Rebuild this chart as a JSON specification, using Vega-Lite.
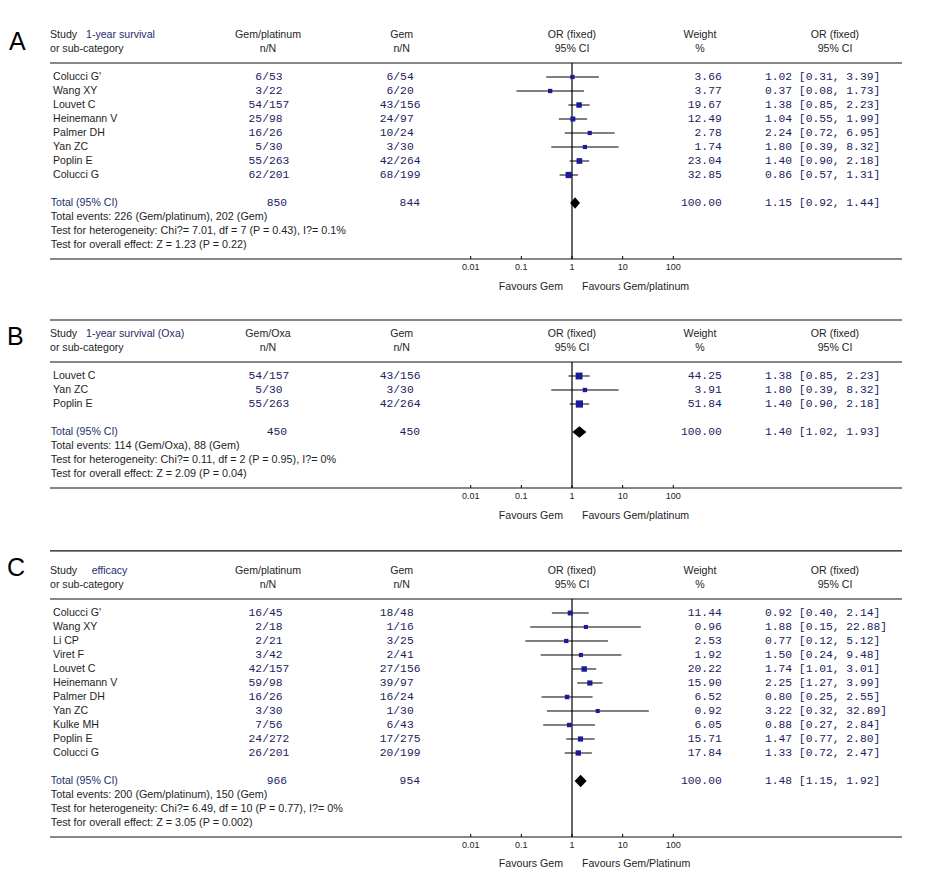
{
  "$schema": "https://vega.github.io/schema/vega-lite/v6.json",
  "padding": 0,
  "spacing": 0,
  "background": "white",
  "config": {"view": {"stroke": null}, "text": {"font": "Liberation Sans", "baseline": "middle"}},
  "datasets": {
    "ticks": [
      {"v": 0.01, "label": "0.01"},
      {"v": 0.1, "label": "0.1"},
      {"v": 1, "label": "1"},
      {"v": 10, "label": "10"},
      {"v": 100, "label": "100"}
    ],
    "panels": [
      {"panel": "A", "outcome": "1-year survival", "t1": 850, "t2": 844, "or": 1.15, "lo": 0.92, "hi": 1.44, "weight": 100, "ci": "1.15 [0.92, 1.44]", "events": "Total events: 226 (Gem/platinum), 202 (Gem)", "het": "Test for heterogeneity: Chi?= 7.01, df = 7 (P = 0.43), I?= 0.1%", "effect": "Test for overall effect: Z = 1.23 (P = 0.22)", "fav1": "Favours Gem", "fav2": "Favours Gem/platinum"},
      {"panel": "B", "outcome": "1-year survival (Oxa)", "t1": 450, "t2": 450, "or": 1.40, "lo": 1.02, "hi": 1.93, "weight": 100, "ci": "1.40 [1.02, 1.93]", "events": "Total events: 114 (Gem/Oxa), 88 (Gem)", "het": "Test for heterogeneity: Chi?= 0.11, df = 2 (P = 0.95), I?= 0%", "effect": "Test for overall effect: Z = 2.09 (P = 0.04)", "fav1": "Favours Gem", "fav2": "Favours Gem/platinum"},
      {"panel": "C", "outcome": "efficacy", "t1": 966, "t2": 954, "or": 1.48, "lo": 1.15, "hi": 1.92, "weight": 100, "ci": "1.48 [1.15, 1.92]", "events": "Total events: 200 (Gem/platinum), 150 (Gem)", "het": "Test for heterogeneity: Chi?= 6.49, df = 10 (P = 0.77), I?= 0%", "effect": "Test for overall effect: Z = 3.05 (P = 0.002)", "fav1": "Favours Gem", "fav2": "Favours Gem/Platinum"}
    ],
    "studies": [
      {"panel": "A", "k": 1, "study": "Colucci G'", "e1": 6, "n1": 53, "e2": 6, "n2": 54, "or": 1.02, "lo": 0.31, "hi": 3.39, "weight": 3.66, "ci": "1.02 [0.31, 3.39]"},
      {"panel": "A", "k": 2, "study": "Wang XY", "e1": 3, "n1": 22, "e2": 6, "n2": 20, "or": 0.37, "lo": 0.08, "hi": 1.73, "weight": 3.77, "ci": "0.37 [0.08, 1.73]"},
      {"panel": "A", "k": 3, "study": "Louvet C", "e1": 54, "n1": 157, "e2": 43, "n2": 156, "or": 1.38, "lo": 0.85, "hi": 2.23, "weight": 19.67, "ci": "1.38 [0.85, 2.23]"},
      {"panel": "A", "k": 4, "study": "Heinemann V", "e1": 25, "n1": 98, "e2": 24, "n2": 97, "or": 1.04, "lo": 0.55, "hi": 1.99, "weight": 12.49, "ci": "1.04 [0.55, 1.99]"},
      {"panel": "A", "k": 5, "study": "Palmer DH", "e1": 16, "n1": 26, "e2": 10, "n2": 24, "or": 2.24, "lo": 0.72, "hi": 6.95, "weight": 2.78, "ci": "2.24 [0.72, 6.95]"},
      {"panel": "A", "k": 6, "study": "Yan ZC", "e1": 5, "n1": 30, "e2": 3, "n2": 30, "or": 1.80, "lo": 0.39, "hi": 8.32, "weight": 1.74, "ci": "1.80 [0.39, 8.32]"},
      {"panel": "A", "k": 7, "study": "Poplin E", "e1": 55, "n1": 263, "e2": 42, "n2": 264, "or": 1.40, "lo": 0.90, "hi": 2.18, "weight": 23.04, "ci": "1.40 [0.90, 2.18]"},
      {"panel": "A", "k": 8, "study": "Colucci G", "e1": 62, "n1": 201, "e2": 68, "n2": 199, "or": 0.86, "lo": 0.57, "hi": 1.31, "weight": 32.85, "ci": "0.86 [0.57, 1.31]"},
      {"panel": "B", "k": 1, "study": "Louvet C", "e1": 54, "n1": 157, "e2": 43, "n2": 156, "or": 1.38, "lo": 0.85, "hi": 2.23, "weight": 44.25, "ci": "1.38 [0.85, 2.23]"},
      {"panel": "B", "k": 2, "study": "Yan ZC", "e1": 5, "n1": 30, "e2": 3, "n2": 30, "or": 1.80, "lo": 0.39, "hi": 8.32, "weight": 3.91, "ci": "1.80 [0.39, 8.32]"},
      {"panel": "B", "k": 3, "study": "Poplin E", "e1": 55, "n1": 263, "e2": 42, "n2": 264, "or": 1.40, "lo": 0.90, "hi": 2.18, "weight": 51.84, "ci": "1.40 [0.90, 2.18]"},
      {"panel": "C", "k": 1, "study": "Colucci G'", "e1": 16, "n1": 45, "e2": 18, "n2": 48, "or": 0.92, "lo": 0.40, "hi": 2.14, "weight": 11.44, "ci": "0.92 [0.40, 2.14]"},
      {"panel": "C", "k": 2, "study": "Wang XY", "e1": 2, "n1": 18, "e2": 1, "n2": 16, "or": 1.88, "lo": 0.15, "hi": 22.88, "weight": 0.96, "ci": "1.88 [0.15, 22.88]"},
      {"panel": "C", "k": 3, "study": "Li CP", "e1": 2, "n1": 21, "e2": 3, "n2": 25, "or": 0.77, "lo": 0.12, "hi": 5.12, "weight": 2.53, "ci": "0.77 [0.12, 5.12]"},
      {"panel": "C", "k": 4, "study": "Viret F", "e1": 3, "n1": 42, "e2": 2, "n2": 41, "or": 1.50, "lo": 0.24, "hi": 9.48, "weight": 1.92, "ci": "1.50 [0.24, 9.48]"},
      {"panel": "C", "k": 5, "study": "Louvet C", "e1": 42, "n1": 157, "e2": 27, "n2": 156, "or": 1.74, "lo": 1.01, "hi": 3.01, "weight": 20.22, "ci": "1.74 [1.01, 3.01]"},
      {"panel": "C", "k": 6, "study": "Heinemann V", "e1": 59, "n1": 98, "e2": 39, "n2": 97, "or": 2.25, "lo": 1.27, "hi": 3.99, "weight": 15.90, "ci": "2.25 [1.27, 3.99]"},
      {"panel": "C", "k": 7, "study": "Palmer DH", "e1": 16, "n1": 26, "e2": 16, "n2": 24, "or": 0.80, "lo": 0.25, "hi": 2.55, "weight": 6.52, "ci": "0.80 [0.25, 2.55]"},
      {"panel": "C", "k": 8, "study": "Yan ZC", "e1": 3, "n1": 30, "e2": 1, "n2": 30, "or": 3.22, "lo": 0.32, "hi": 32.89, "weight": 0.92, "ci": "3.22 [0.32, 32.89]"},
      {"panel": "C", "k": 9, "study": "Kulke MH", "e1": 7, "n1": 56, "e2": 6, "n2": 43, "or": 0.88, "lo": 0.27, "hi": 2.84, "weight": 6.05, "ci": "0.88 [0.27, 2.84]"},
      {"panel": "C", "k": 10, "study": "Poplin E", "e1": 24, "n1": 272, "e2": 17, "n2": 275, "or": 1.47, "lo": 0.77, "hi": 2.80, "weight": 15.71, "ci": "1.47 [0.77, 2.80]"},
      {"panel": "C", "k": 11, "study": "Colucci G", "e1": 26, "n1": 201, "e2": 20, "n2": 199, "or": 1.33, "lo": 0.72, "hi": 2.47, "weight": 17.84, "ci": "1.33 [0.72, 2.47]"}
    ]
  },
  "vconcat": [
    {
      "width": 945, "height": 301,
      "resolve": {"scale": {"x": "independent"}},
      "layer": [
        {
          "layer": [
            {"data": {"name": "panels"}, "transform": [{"filter": "datum.panel == 'A'"}], "mark": {"type": "text", "align": "left", "fontSize": 25, "color": "#000"}, "encoding": {"x": {"datum": 0.95, "type": "quantitative", "scale": {"domain": [0, 100], "nice": false, "zero": false}, "axis": null}, "y": {"datum": -1.5, "type": "quantitative", "scale": {"domain": [-4.5, 17], "reverse": true, "nice": false, "zero": false}, "axis": null}, "text": {"field": "panel"}}},
            {"data": {"name": "panels"}, "transform": [{"filter": "datum.panel == 'A'"}], "mark": {"type": "text", "align": "left", "fontSize": 10.6, "lineHeight": 14, "color": "#1e1e1e", "text": ["Study", "or sub-category"]}, "encoding": {"x": {"datum": 5.29, "type": "quantitative"}, "y": {"datum": -2, "type": "quantitative"}}},
            {"data": {"name": "panels"}, "transform": [{"filter": "datum.panel == 'A'"}], "mark": {"type": "text", "align": "left", "fontSize": 10.6, "color": "#1f2b6b"}, "encoding": {"x": {"datum": 9.1, "type": "quantitative"}, "y": {"datum": -2, "type": "quantitative"}, "text": {"field": "outcome"}}},
            {"data": {"name": "panels"}, "transform": [{"filter": "datum.panel == 'A'"}], "mark": {"type": "text", "align": "center", "fontSize": 10.6, "lineHeight": 14, "color": "#1e1e1e", "text": ["Gem/platinum", "n/N"]}, "encoding": {"x": {"datum": 28.36, "type": "quantitative"}, "y": {"datum": -2, "type": "quantitative"}}},
            {"data": {"name": "panels"}, "transform": [{"filter": "datum.panel == 'A'"}], "mark": {"type": "text", "align": "center", "fontSize": 10.6, "lineHeight": 14, "color": "#1e1e1e", "text": ["Gem", "n/N"]}, "encoding": {"x": {"datum": 42.51, "type": "quantitative"}, "y": {"datum": -2, "type": "quantitative"}}},
            {"data": {"name": "panels"}, "transform": [{"filter": "datum.panel == 'A'"}], "mark": {"type": "text", "align": "center", "fontSize": 10.6, "lineHeight": 14, "color": "#1e1e1e", "text": ["OR (fixed)", "95% CI"]}, "encoding": {"x": {"datum": 60.53, "type": "quantitative"}, "y": {"datum": -2, "type": "quantitative"}}},
            {"data": {"name": "panels"}, "transform": [{"filter": "datum.panel == 'A'"}], "mark": {"type": "text", "align": "center", "fontSize": 10.6, "lineHeight": 14, "color": "#1e1e1e", "text": ["Weight", "%"]}, "encoding": {"x": {"datum": 74.07, "type": "quantitative"}, "y": {"datum": -2, "type": "quantitative"}}},
            {"data": {"name": "panels"}, "transform": [{"filter": "datum.panel == 'A'"}], "mark": {"type": "text", "align": "center", "fontSize": 10.6, "lineHeight": 14, "color": "#1e1e1e", "text": ["OR (fixed)", "95% CI"]}, "encoding": {"x": {"datum": 88.36, "type": "quantitative"}, "y": {"datum": -2, "type": "quantitative"}}},
            {"data": {"name": "panels"}, "transform": [{"filter": "datum.panel == 'A'"}], "mark": {"type": "rule", "color": "#111", "strokeWidth": 1.2}, "encoding": {"x": {"datum": 5.29, "type": "quantitative"}, "x2": {"datum": 95.45}, "y": {"datum": 0, "type": "quantitative"}}},
            {"data": {"name": "panels"}, "transform": [{"filter": "datum.panel == 'A'"}], "mark": {"type": "rule", "color": "#111", "strokeWidth": 1.2}, "encoding": {"x": {"datum": 5.29, "type": "quantitative"}, "x2": {"datum": 95.45}, "y": {"datum": 14, "type": "quantitative"}}},
            {"data": {"name": "studies"}, "transform": [{"filter": "datum.panel == 'A'"}], "mark": {"type": "text", "align": "left", "fontSize": 10.6, "color": "#1e1e1e"}, "encoding": {"x": {"datum": 5.61, "type": "quantitative"}, "y": {"field": "k", "type": "quantitative"}, "text": {"field": "study", "type": "nominal"}}},
            {"data": {"name": "studies"}, "transform": [{"filter": "datum.panel == 'A'"}], "mark": {"type": "text", "align": "right", "font": "Liberation Mono", "fontSize": 11.3, "color": "#1b2160"}, "encoding": {"x": {"datum": 27.74, "type": "quantitative"}, "y": {"field": "k", "type": "quantitative"}, "text": {"field": "e1", "type": "nominal"}}},
            {"data": {"name": "studies"}, "transform": [{"filter": "datum.panel == 'A'"}], "mark": {"type": "text", "align": "center", "font": "Liberation Mono", "fontSize": 11.3, "color": "#1b2160", "text": "/"}, "encoding": {"x": {"datum": 28.1, "type": "quantitative"}, "y": {"field": "k", "type": "quantitative"}}},
            {"data": {"name": "studies"}, "transform": [{"filter": "datum.panel == 'A'"}], "mark": {"type": "text", "align": "left", "font": "Liberation Mono", "fontSize": 11.3, "color": "#1b2160"}, "encoding": {"x": {"datum": 28.46, "type": "quantitative"}, "y": {"field": "k", "type": "quantitative"}, "text": {"field": "n1", "type": "nominal"}}},
            {"data": {"name": "studies"}, "transform": [{"filter": "datum.panel == 'A'"}], "mark": {"type": "text", "align": "right", "font": "Liberation Mono", "fontSize": 11.3, "color": "#1b2160"}, "encoding": {"x": {"datum": 41.62, "type": "quantitative"}, "y": {"field": "k", "type": "quantitative"}, "text": {"field": "e2", "type": "nominal"}}},
            {"data": {"name": "studies"}, "transform": [{"filter": "datum.panel == 'A'"}], "mark": {"type": "text", "align": "center", "font": "Liberation Mono", "fontSize": 11.3, "color": "#1b2160", "text": "/"}, "encoding": {"x": {"datum": 41.98, "type": "quantitative"}, "y": {"field": "k", "type": "quantitative"}}},
            {"data": {"name": "studies"}, "transform": [{"filter": "datum.panel == 'A'"}], "mark": {"type": "text", "align": "left", "font": "Liberation Mono", "fontSize": 11.3, "color": "#1b2160"}, "encoding": {"x": {"datum": 42.34, "type": "quantitative"}, "y": {"field": "k", "type": "quantitative"}, "text": {"field": "n2", "type": "nominal"}}},
            {"data": {"name": "studies"}, "transform": [{"filter": "datum.panel == 'A'"}], "mark": {"type": "text", "align": "right", "font": "Liberation Mono", "fontSize": 11.3, "color": "#1b2160"}, "encoding": {"x": {"datum": 76.37, "type": "quantitative"}, "y": {"field": "k", "type": "quantitative"}, "text": {"field": "weight", "type": "quantitative", "format": ".2f"}}},
            {"data": {"name": "studies"}, "transform": [{"filter": "datum.panel == 'A'"}], "mark": {"type": "text", "align": "left", "font": "Liberation Mono", "fontSize": 11.3, "color": "#1b2160"}, "encoding": {"x": {"datum": 80.95, "type": "quantitative"}, "y": {"field": "k", "type": "quantitative"}, "text": {"field": "ci", "type": "nominal"}}},
            {"data": {"name": "panels"}, "transform": [{"filter": "datum.panel == 'A'"}], "mark": {"type": "text", "align": "left", "fontSize": 10.6, "color": "#22306e", "text": "Total (95% CI)"}, "encoding": {"x": {"datum": 5.37, "type": "quantitative"}, "y": {"datum": 10, "type": "quantitative"}}},
            {"data": {"name": "panels"}, "transform": [{"filter": "datum.panel == 'A'"}], "mark": {"type": "text", "align": "right", "font": "Liberation Mono", "fontSize": 11.3, "color": "#1b2160"}, "encoding": {"x": {"datum": 30.37, "type": "quantitative"}, "y": {"datum": 10, "type": "quantitative"}, "text": {"field": "t1", "type": "nominal"}}},
            {"data": {"name": "panels"}, "transform": [{"filter": "datum.panel == 'A'"}], "mark": {"type": "text", "align": "right", "font": "Liberation Mono", "fontSize": 11.3, "color": "#1b2160"}, "encoding": {"x": {"datum": 44.44, "type": "quantitative"}, "y": {"datum": 10, "type": "quantitative"}, "text": {"field": "t2", "type": "nominal"}}},
            {"data": {"name": "panels"}, "transform": [{"filter": "datum.panel == 'A'"}], "mark": {"type": "text", "align": "right", "font": "Liberation Mono", "fontSize": 11.3, "color": "#1b2160"}, "encoding": {"x": {"datum": 76.37, "type": "quantitative"}, "y": {"datum": 10, "type": "quantitative"}, "text": {"field": "weight", "type": "quantitative", "format": ".2f"}}},
            {"data": {"name": "panels"}, "transform": [{"filter": "datum.panel == 'A'"}], "mark": {"type": "text", "align": "left", "font": "Liberation Mono", "fontSize": 11.3, "color": "#1b2160"}, "encoding": {"x": {"datum": 80.95, "type": "quantitative"}, "y": {"datum": 10, "type": "quantitative"}, "text": {"field": "ci", "type": "nominal"}}},
            {"data": {"name": "panels"}, "transform": [{"filter": "datum.panel == 'A'"}], "mark": {"type": "text", "align": "left", "fontSize": 10.8, "color": "#1e1e1e"}, "encoding": {"x": {"datum": 5.37, "type": "quantitative"}, "y": {"datum": 11, "type": "quantitative"}, "text": {"field": "events", "type": "nominal"}}},
            {"data": {"name": "panels"}, "transform": [{"filter": "datum.panel == 'A'"}], "mark": {"type": "text", "align": "left", "fontSize": 10.8, "color": "#1e1e1e"}, "encoding": {"x": {"datum": 5.37, "type": "quantitative"}, "y": {"datum": 12, "type": "quantitative"}, "text": {"field": "het", "type": "nominal"}}},
            {"data": {"name": "panels"}, "transform": [{"filter": "datum.panel == 'A'"}], "mark": {"type": "text", "align": "left", "fontSize": 10.8, "color": "#1e1e1e"}, "encoding": {"x": {"datum": 5.37, "type": "quantitative"}, "y": {"datum": 13, "type": "quantitative"}, "text": {"field": "effect", "type": "nominal"}}}
          ]
        },
        {
          "layer": [
            {"data": {"name": "panels"}, "transform": [{"filter": "datum.panel == 'A'"}], "mark": {"type": "rule", "color": "#000", "strokeWidth": 1.2}, "encoding": {"x": {"datum": 1, "type": "quantitative", "scale": {"type": "log", "domain": [0.01, 100], "range": [470.7, 673.3], "nice": false}, "axis": null}, "y": {"datum": 0, "type": "quantitative"}, "y2": {"datum": 14}}},
            {"data": {"name": "ticks"}, "mark": {"type": "rule", "color": "#000", "strokeWidth": 1}, "encoding": {"x": {"field": "v", "type": "quantitative", "axis": null}, "y": {"datum": 13.786, "type": "quantitative"}, "y2": {"datum": 14}}},
            {"data": {"name": "ticks"}, "mark": {"type": "text", "align": "center", "fontSize": 9, "color": "#222"}, "encoding": {"x": {"field": "v", "type": "quantitative", "axis": null}, "y": {"datum": 14.55, "type": "quantitative"}, "text": {"field": "label", "type": "nominal"}}},
            {"data": {"name": "studies"}, "transform": [{"filter": "datum.panel == 'A'"}], "mark": {"type": "rule", "color": "#000", "strokeWidth": 1}, "encoding": {"x": {"field": "lo", "type": "quantitative", "axis": null}, "x2": {"field": "hi"}, "y": {"field": "k", "type": "quantitative"}}},
            {"data": {"name": "studies"}, "transform": [{"filter": "datum.panel == 'A'"}], "mark": {"type": "point", "shape": "square", "filled": true, "opacity": 1, "color": "#1a1a9a"}, "encoding": {"x": {"field": "or", "type": "quantitative", "axis": null}, "y": {"field": "k", "type": "quantitative"}, "size": {"field": "weight", "type": "quantitative", "scale": {"domain": [0, 100], "range": [16, 86]}, "legend": null}}},
            {"data": {"name": "panels"}, "transform": [{"filter": "datum.panel == 'A'"}], "mark": {"type": "point", "shape": "M-0.86,0L0,-1L0.86,0L0,1Z", "filled": true, "opacity": 1, "color": "#000", "size": 132}, "encoding": {"x": {"field": "or", "type": "quantitative", "axis": null}, "y": {"datum": 10, "type": "quantitative"}}},
            {"data": {"name": "panels"}, "transform": [{"filter": "datum.panel == 'A'"}], "mark": {"type": "text", "align": "right", "dx": -9, "fontSize": 10.6, "color": "#1e1e1e"}, "encoding": {"x": {"datum": 1, "type": "quantitative", "axis": null}, "y": {"datum": 16, "type": "quantitative"}, "text": {"field": "fav1", "type": "nominal"}}},
            {"data": {"name": "panels"}, "transform": [{"filter": "datum.panel == 'A'"}], "mark": {"type": "text", "align": "left", "dx": 10, "fontSize": 10.6, "color": "#1e1e1e"}, "encoding": {"x": {"datum": 1, "type": "quantitative", "axis": null}, "y": {"datum": 16, "type": "quantitative"}, "text": {"field": "fav2", "type": "nominal"}}}
          ]
        }
      ]
    },
    {
      "width": 945, "height": 234,
      "resolve": {"scale": {"x": "independent"}},
      "layer": [
        {
          "layer": [
            {"data": {"name": "panels"}, "transform": [{"filter": "datum.panel == 'B'"}], "mark": {"type": "text", "align": "left", "fontSize": 25, "color": "#000"}, "encoding": {"x": {"datum": 0.74, "type": "quantitative", "scale": {"domain": [0, 100], "nice": false, "zero": false}, "axis": null}, "y": {"datum": -1.8, "type": "quantitative", "scale": {"domain": [-4.357, 12.357], "reverse": true, "nice": false, "zero": false}, "axis": null}, "text": {"field": "panel"}}},
            {"data": {"name": "panels"}, "transform": [{"filter": "datum.panel == 'B'"}], "mark": {"type": "text", "align": "left", "fontSize": 10.6, "lineHeight": 14, "color": "#1e1e1e", "text": ["Study", "or sub-category"]}, "encoding": {"x": {"datum": 5.29, "type": "quantitative"}, "y": {"datum": -2, "type": "quantitative"}}},
            {"data": {"name": "panels"}, "transform": [{"filter": "datum.panel == 'B'"}], "mark": {"type": "text", "align": "left", "fontSize": 10.6, "color": "#1f2b6b"}, "encoding": {"x": {"datum": 9.1, "type": "quantitative"}, "y": {"datum": -2, "type": "quantitative"}, "text": {"field": "outcome"}}},
            {"data": {"name": "panels"}, "transform": [{"filter": "datum.panel == 'B'"}], "mark": {"type": "text", "align": "center", "fontSize": 10.6, "lineHeight": 14, "color": "#1e1e1e", "text": ["Gem/Oxa", "n/N"]}, "encoding": {"x": {"datum": 28.36, "type": "quantitative"}, "y": {"datum": -2, "type": "quantitative"}}},
            {"data": {"name": "panels"}, "transform": [{"filter": "datum.panel == 'B'"}], "mark": {"type": "text", "align": "center", "fontSize": 10.6, "lineHeight": 14, "color": "#1e1e1e", "text": ["Gem", "n/N"]}, "encoding": {"x": {"datum": 42.51, "type": "quantitative"}, "y": {"datum": -2, "type": "quantitative"}}},
            {"data": {"name": "panels"}, "transform": [{"filter": "datum.panel == 'B'"}], "mark": {"type": "text", "align": "center", "fontSize": 10.6, "lineHeight": 14, "color": "#1e1e1e", "text": ["OR (fixed)", "95% CI"]}, "encoding": {"x": {"datum": 60.53, "type": "quantitative"}, "y": {"datum": -2, "type": "quantitative"}}},
            {"data": {"name": "panels"}, "transform": [{"filter": "datum.panel == 'B'"}], "mark": {"type": "text", "align": "center", "fontSize": 10.6, "lineHeight": 14, "color": "#1e1e1e", "text": ["Weight", "%"]}, "encoding": {"x": {"datum": 74.07, "type": "quantitative"}, "y": {"datum": -2, "type": "quantitative"}}},
            {"data": {"name": "panels"}, "transform": [{"filter": "datum.panel == 'B'"}], "mark": {"type": "text", "align": "center", "fontSize": 10.6, "lineHeight": 14, "color": "#1e1e1e", "text": ["OR (fixed)", "95% CI"]}, "encoding": {"x": {"datum": 88.36, "type": "quantitative"}, "y": {"datum": -2, "type": "quantitative"}}},
            {"data": {"name": "panels"}, "transform": [{"filter": "datum.panel == 'B'"}], "mark": {"type": "rule", "color": "#111", "strokeWidth": 1.2}, "encoding": {"x": {"datum": 5.29, "type": "quantitative"}, "x2": {"datum": 95.45}, "y": {"datum": -3, "type": "quantitative"}}},
            {"data": {"name": "panels"}, "transform": [{"filter": "datum.panel == 'B'"}], "mark": {"type": "rule", "color": "#111", "strokeWidth": 1.2}, "encoding": {"x": {"datum": 5.29, "type": "quantitative"}, "x2": {"datum": 95.45}, "y": {"datum": 0, "type": "quantitative"}}},
            {"data": {"name": "panels"}, "transform": [{"filter": "datum.panel == 'B'"}], "mark": {"type": "rule", "color": "#111", "strokeWidth": 1.2}, "encoding": {"x": {"datum": 5.29, "type": "quantitative"}, "x2": {"datum": 95.45}, "y": {"datum": 9, "type": "quantitative"}}},
            {"data": {"name": "studies"}, "transform": [{"filter": "datum.panel == 'B'"}], "mark": {"type": "text", "align": "left", "fontSize": 10.6, "color": "#1e1e1e"}, "encoding": {"x": {"datum": 5.61, "type": "quantitative"}, "y": {"field": "k", "type": "quantitative"}, "text": {"field": "study", "type": "nominal"}}},
            {"data": {"name": "studies"}, "transform": [{"filter": "datum.panel == 'B'"}], "mark": {"type": "text", "align": "right", "font": "Liberation Mono", "fontSize": 11.3, "color": "#1b2160"}, "encoding": {"x": {"datum": 27.74, "type": "quantitative"}, "y": {"field": "k", "type": "quantitative"}, "text": {"field": "e1", "type": "nominal"}}},
            {"data": {"name": "studies"}, "transform": [{"filter": "datum.panel == 'B'"}], "mark": {"type": "text", "align": "center", "font": "Liberation Mono", "fontSize": 11.3, "color": "#1b2160", "text": "/"}, "encoding": {"x": {"datum": 28.1, "type": "quantitative"}, "y": {"field": "k", "type": "quantitative"}}},
            {"data": {"name": "studies"}, "transform": [{"filter": "datum.panel == 'B'"}], "mark": {"type": "text", "align": "left", "font": "Liberation Mono", "fontSize": 11.3, "color": "#1b2160"}, "encoding": {"x": {"datum": 28.46, "type": "quantitative"}, "y": {"field": "k", "type": "quantitative"}, "text": {"field": "n1", "type": "nominal"}}},
            {"data": {"name": "studies"}, "transform": [{"filter": "datum.panel == 'B'"}], "mark": {"type": "text", "align": "right", "font": "Liberation Mono", "fontSize": 11.3, "color": "#1b2160"}, "encoding": {"x": {"datum": 41.62, "type": "quantitative"}, "y": {"field": "k", "type": "quantitative"}, "text": {"field": "e2", "type": "nominal"}}},
            {"data": {"name": "studies"}, "transform": [{"filter": "datum.panel == 'B'"}], "mark": {"type": "text", "align": "center", "font": "Liberation Mono", "fontSize": 11.3, "color": "#1b2160", "text": "/"}, "encoding": {"x": {"datum": 41.98, "type": "quantitative"}, "y": {"field": "k", "type": "quantitative"}}},
            {"data": {"name": "studies"}, "transform": [{"filter": "datum.panel == 'B'"}], "mark": {"type": "text", "align": "left", "font": "Liberation Mono", "fontSize": 11.3, "color": "#1b2160"}, "encoding": {"x": {"datum": 42.34, "type": "quantitative"}, "y": {"field": "k", "type": "quantitative"}, "text": {"field": "n2", "type": "nominal"}}},
            {"data": {"name": "studies"}, "transform": [{"filter": "datum.panel == 'B'"}], "mark": {"type": "text", "align": "right", "font": "Liberation Mono", "fontSize": 11.3, "color": "#1b2160"}, "encoding": {"x": {"datum": 76.37, "type": "quantitative"}, "y": {"field": "k", "type": "quantitative"}, "text": {"field": "weight", "type": "quantitative", "format": ".2f"}}},
            {"data": {"name": "studies"}, "transform": [{"filter": "datum.panel == 'B'"}], "mark": {"type": "text", "align": "left", "font": "Liberation Mono", "fontSize": 11.3, "color": "#1b2160"}, "encoding": {"x": {"datum": 80.95, "type": "quantitative"}, "y": {"field": "k", "type": "quantitative"}, "text": {"field": "ci", "type": "nominal"}}},
            {"data": {"name": "panels"}, "transform": [{"filter": "datum.panel == 'B'"}], "mark": {"type": "text", "align": "left", "fontSize": 10.6, "color": "#22306e", "text": "Total (95% CI)"}, "encoding": {"x": {"datum": 5.37, "type": "quantitative"}, "y": {"datum": 5, "type": "quantitative"}}},
            {"data": {"name": "panels"}, "transform": [{"filter": "datum.panel == 'B'"}], "mark": {"type": "text", "align": "right", "font": "Liberation Mono", "fontSize": 11.3, "color": "#1b2160"}, "encoding": {"x": {"datum": 30.37, "type": "quantitative"}, "y": {"datum": 5, "type": "quantitative"}, "text": {"field": "t1", "type": "nominal"}}},
            {"data": {"name": "panels"}, "transform": [{"filter": "datum.panel == 'B'"}], "mark": {"type": "text", "align": "right", "font": "Liberation Mono", "fontSize": 11.3, "color": "#1b2160"}, "encoding": {"x": {"datum": 44.44, "type": "quantitative"}, "y": {"datum": 5, "type": "quantitative"}, "text": {"field": "t2", "type": "nominal"}}},
            {"data": {"name": "panels"}, "transform": [{"filter": "datum.panel == 'B'"}], "mark": {"type": "text", "align": "right", "font": "Liberation Mono", "fontSize": 11.3, "color": "#1b2160"}, "encoding": {"x": {"datum": 76.37, "type": "quantitative"}, "y": {"datum": 5, "type": "quantitative"}, "text": {"field": "weight", "type": "quantitative", "format": ".2f"}}},
            {"data": {"name": "panels"}, "transform": [{"filter": "datum.panel == 'B'"}], "mark": {"type": "text", "align": "left", "font": "Liberation Mono", "fontSize": 11.3, "color": "#1b2160"}, "encoding": {"x": {"datum": 80.95, "type": "quantitative"}, "y": {"datum": 5, "type": "quantitative"}, "text": {"field": "ci", "type": "nominal"}}},
            {"data": {"name": "panels"}, "transform": [{"filter": "datum.panel == 'B'"}], "mark": {"type": "text", "align": "left", "fontSize": 10.8, "color": "#1e1e1e"}, "encoding": {"x": {"datum": 5.37, "type": "quantitative"}, "y": {"datum": 6, "type": "quantitative"}, "text": {"field": "events", "type": "nominal"}}},
            {"data": {"name": "panels"}, "transform": [{"filter": "datum.panel == 'B'"}], "mark": {"type": "text", "align": "left", "fontSize": 10.8, "color": "#1e1e1e"}, "encoding": {"x": {"datum": 5.37, "type": "quantitative"}, "y": {"datum": 7, "type": "quantitative"}, "text": {"field": "het", "type": "nominal"}}},
            {"data": {"name": "panels"}, "transform": [{"filter": "datum.panel == 'B'"}], "mark": {"type": "text", "align": "left", "fontSize": 10.8, "color": "#1e1e1e"}, "encoding": {"x": {"datum": 5.37, "type": "quantitative"}, "y": {"datum": 8, "type": "quantitative"}, "text": {"field": "effect", "type": "nominal"}}}
          ]
        },
        {
          "layer": [
            {"data": {"name": "panels"}, "transform": [{"filter": "datum.panel == 'B'"}], "mark": {"type": "rule", "color": "#000", "strokeWidth": 1.2}, "encoding": {"x": {"datum": 1, "type": "quantitative", "scale": {"type": "log", "domain": [0.01, 100], "range": [470.7, 673.3], "nice": false}, "axis": null}, "y": {"datum": 0, "type": "quantitative"}, "y2": {"datum": 9}}},
            {"data": {"name": "ticks"}, "mark": {"type": "rule", "color": "#000", "strokeWidth": 1}, "encoding": {"x": {"field": "v", "type": "quantitative", "axis": null}, "y": {"datum": 8.786, "type": "quantitative"}, "y2": {"datum": 9}}},
            {"data": {"name": "ticks"}, "mark": {"type": "text", "align": "center", "fontSize": 9, "color": "#222"}, "encoding": {"x": {"field": "v", "type": "quantitative", "axis": null}, "y": {"datum": 9.55, "type": "quantitative"}, "text": {"field": "label", "type": "nominal"}}},
            {"data": {"name": "studies"}, "transform": [{"filter": "datum.panel == 'B'"}], "mark": {"type": "rule", "color": "#000", "strokeWidth": 1}, "encoding": {"x": {"field": "lo", "type": "quantitative", "axis": null}, "x2": {"field": "hi"}, "y": {"field": "k", "type": "quantitative"}}},
            {"data": {"name": "studies"}, "transform": [{"filter": "datum.panel == 'B'"}], "mark": {"type": "point", "shape": "square", "filled": true, "opacity": 1, "color": "#1a1a9a"}, "encoding": {"x": {"field": "or", "type": "quantitative", "axis": null}, "y": {"field": "k", "type": "quantitative"}, "size": {"field": "weight", "type": "quantitative", "scale": {"domain": [0, 100], "range": [16, 86]}, "legend": null}}},
            {"data": {"name": "panels"}, "transform": [{"filter": "datum.panel == 'B'"}], "mark": {"type": "point", "shape": "M-1.2,0L0,-1L1.2,0L0,1Z", "filled": true, "opacity": 1, "color": "#000", "size": 137}, "encoding": {"x": {"field": "or", "type": "quantitative", "axis": null}, "y": {"datum": 5, "type": "quantitative"}}},
            {"data": {"name": "panels"}, "transform": [{"filter": "datum.panel == 'B'"}], "mark": {"type": "text", "align": "right", "dx": -9, "fontSize": 10.6, "color": "#1e1e1e"}, "encoding": {"x": {"datum": 1, "type": "quantitative", "axis": null}, "y": {"datum": 11, "type": "quantitative"}, "text": {"field": "fav1", "type": "nominal"}}},
            {"data": {"name": "panels"}, "transform": [{"filter": "datum.panel == 'B'"}], "mark": {"type": "text", "align": "left", "dx": 10, "fontSize": 10.6, "color": "#1e1e1e"}, "encoding": {"x": {"datum": 1, "type": "quantitative", "axis": null}, "y": {"datum": 11, "type": "quantitative"}, "text": {"field": "fav2", "type": "nominal"}}}
          ]
        }
      ]
    },
    {
      "width": 945, "height": 340,
      "resolve": {"scale": {"x": "independent"}},
      "layer": [
        {
          "layer": [
            {"data": {"name": "panels"}, "transform": [{"filter": "datum.panel == 'C'"}], "mark": {"type": "text", "align": "left", "fontSize": 25, "color": "#000"}, "encoding": {"x": {"datum": 0.74, "type": "quantitative", "scale": {"domain": [0, 100], "nice": false, "zero": false}, "axis": null}, "y": {"datum": -2.2, "type": "quantitative", "scale": {"domain": [-4.571, 19.714], "reverse": true, "nice": false, "zero": false}, "axis": null}, "text": {"field": "panel"}}},
            {"data": {"name": "panels"}, "transform": [{"filter": "datum.panel == 'C'"}], "mark": {"type": "text", "align": "left", "fontSize": 10.6, "lineHeight": 14, "color": "#1e1e1e", "text": ["Study", "or sub-category"]}, "encoding": {"x": {"datum": 5.29, "type": "quantitative"}, "y": {"datum": -2, "type": "quantitative"}}},
            {"data": {"name": "panels"}, "transform": [{"filter": "datum.panel == 'C'"}], "mark": {"type": "text", "align": "left", "fontSize": 10.6, "color": "#1f2b6b"}, "encoding": {"x": {"datum": 9.7, "type": "quantitative"}, "y": {"datum": -2, "type": "quantitative"}, "text": {"field": "outcome"}}},
            {"data": {"name": "panels"}, "transform": [{"filter": "datum.panel == 'C'"}], "mark": {"type": "text", "align": "center", "fontSize": 10.6, "lineHeight": 14, "color": "#1e1e1e", "text": ["Gem/platinum", "n/N"]}, "encoding": {"x": {"datum": 28.36, "type": "quantitative"}, "y": {"datum": -2, "type": "quantitative"}}},
            {"data": {"name": "panels"}, "transform": [{"filter": "datum.panel == 'C'"}], "mark": {"type": "text", "align": "center", "fontSize": 10.6, "lineHeight": 14, "color": "#1e1e1e", "text": ["Gem", "n/N"]}, "encoding": {"x": {"datum": 42.51, "type": "quantitative"}, "y": {"datum": -2, "type": "quantitative"}}},
            {"data": {"name": "panels"}, "transform": [{"filter": "datum.panel == 'C'"}], "mark": {"type": "text", "align": "center", "fontSize": 10.6, "lineHeight": 14, "color": "#1e1e1e", "text": ["OR (fixed)", "95% CI"]}, "encoding": {"x": {"datum": 60.53, "type": "quantitative"}, "y": {"datum": -2, "type": "quantitative"}}},
            {"data": {"name": "panels"}, "transform": [{"filter": "datum.panel == 'C'"}], "mark": {"type": "text", "align": "center", "fontSize": 10.6, "lineHeight": 14, "color": "#1e1e1e", "text": ["Weight", "%"]}, "encoding": {"x": {"datum": 74.07, "type": "quantitative"}, "y": {"datum": -2, "type": "quantitative"}}},
            {"data": {"name": "panels"}, "transform": [{"filter": "datum.panel == 'C'"}], "mark": {"type": "text", "align": "center", "fontSize": 10.6, "lineHeight": 14, "color": "#1e1e1e", "text": ["OR (fixed)", "95% CI"]}, "encoding": {"x": {"datum": 88.36, "type": "quantitative"}, "y": {"datum": -2, "type": "quantitative"}}},
            {"data": {"name": "panels"}, "transform": [{"filter": "datum.panel == 'C'"}], "mark": {"type": "rule", "color": "#111", "strokeWidth": 1.2}, "encoding": {"x": {"datum": 5.29, "type": "quantitative"}, "x2": {"datum": 95.45}, "y": {"datum": -3.43, "type": "quantitative"}}},
            {"data": {"name": "panels"}, "transform": [{"filter": "datum.panel == 'C'"}], "mark": {"type": "rule", "color": "#111", "strokeWidth": 1.2}, "encoding": {"x": {"datum": 5.29, "type": "quantitative"}, "x2": {"datum": 95.45}, "y": {"datum": 0, "type": "quantitative"}}},
            {"data": {"name": "panels"}, "transform": [{"filter": "datum.panel == 'C'"}], "mark": {"type": "rule", "color": "#111", "strokeWidth": 1.2}, "encoding": {"x": {"datum": 5.29, "type": "quantitative"}, "x2": {"datum": 95.45}, "y": {"datum": 17, "type": "quantitative"}}},
            {"data": {"name": "studies"}, "transform": [{"filter": "datum.panel == 'C'"}], "mark": {"type": "text", "align": "left", "fontSize": 10.6, "color": "#1e1e1e"}, "encoding": {"x": {"datum": 5.61, "type": "quantitative"}, "y": {"field": "k", "type": "quantitative"}, "text": {"field": "study", "type": "nominal"}}},
            {"data": {"name": "studies"}, "transform": [{"filter": "datum.panel == 'C'"}], "mark": {"type": "text", "align": "right", "font": "Liberation Mono", "fontSize": 11.3, "color": "#1b2160"}, "encoding": {"x": {"datum": 27.74, "type": "quantitative"}, "y": {"field": "k", "type": "quantitative"}, "text": {"field": "e1", "type": "nominal"}}},
            {"data": {"name": "studies"}, "transform": [{"filter": "datum.panel == 'C'"}], "mark": {"type": "text", "align": "center", "font": "Liberation Mono", "fontSize": 11.3, "color": "#1b2160", "text": "/"}, "encoding": {"x": {"datum": 28.1, "type": "quantitative"}, "y": {"field": "k", "type": "quantitative"}}},
            {"data": {"name": "studies"}, "transform": [{"filter": "datum.panel == 'C'"}], "mark": {"type": "text", "align": "left", "font": "Liberation Mono", "fontSize": 11.3, "color": "#1b2160"}, "encoding": {"x": {"datum": 28.46, "type": "quantitative"}, "y": {"field": "k", "type": "quantitative"}, "text": {"field": "n1", "type": "nominal"}}},
            {"data": {"name": "studies"}, "transform": [{"filter": "datum.panel == 'C'"}], "mark": {"type": "text", "align": "right", "font": "Liberation Mono", "fontSize": 11.3, "color": "#1b2160"}, "encoding": {"x": {"datum": 41.62, "type": "quantitative"}, "y": {"field": "k", "type": "quantitative"}, "text": {"field": "e2", "type": "nominal"}}},
            {"data": {"name": "studies"}, "transform": [{"filter": "datum.panel == 'C'"}], "mark": {"type": "text", "align": "center", "font": "Liberation Mono", "fontSize": 11.3, "color": "#1b2160", "text": "/"}, "encoding": {"x": {"datum": 41.98, "type": "quantitative"}, "y": {"field": "k", "type": "quantitative"}}},
            {"data": {"name": "studies"}, "transform": [{"filter": "datum.panel == 'C'"}], "mark": {"type": "text", "align": "left", "font": "Liberation Mono", "fontSize": 11.3, "color": "#1b2160"}, "encoding": {"x": {"datum": 42.34, "type": "quantitative"}, "y": {"field": "k", "type": "quantitative"}, "text": {"field": "n2", "type": "nominal"}}},
            {"data": {"name": "studies"}, "transform": [{"filter": "datum.panel == 'C'"}], "mark": {"type": "text", "align": "right", "font": "Liberation Mono", "fontSize": 11.3, "color": "#1b2160"}, "encoding": {"x": {"datum": 76.37, "type": "quantitative"}, "y": {"field": "k", "type": "quantitative"}, "text": {"field": "weight", "type": "quantitative", "format": ".2f"}}},
            {"data": {"name": "studies"}, "transform": [{"filter": "datum.panel == 'C'"}], "mark": {"type": "text", "align": "left", "font": "Liberation Mono", "fontSize": 11.3, "color": "#1b2160"}, "encoding": {"x": {"datum": 80.95, "type": "quantitative"}, "y": {"field": "k", "type": "quantitative"}, "text": {"field": "ci", "type": "nominal"}}},
            {"data": {"name": "panels"}, "transform": [{"filter": "datum.panel == 'C'"}], "mark": {"type": "text", "align": "left", "fontSize": 10.6, "color": "#22306e", "text": "Total (95% CI)"}, "encoding": {"x": {"datum": 5.37, "type": "quantitative"}, "y": {"datum": 13, "type": "quantitative"}}},
            {"data": {"name": "panels"}, "transform": [{"filter": "datum.panel == 'C'"}], "mark": {"type": "text", "align": "right", "font": "Liberation Mono", "fontSize": 11.3, "color": "#1b2160"}, "encoding": {"x": {"datum": 30.37, "type": "quantitative"}, "y": {"datum": 13, "type": "quantitative"}, "text": {"field": "t1", "type": "nominal"}}},
            {"data": {"name": "panels"}, "transform": [{"filter": "datum.panel == 'C'"}], "mark": {"type": "text", "align": "right", "font": "Liberation Mono", "fontSize": 11.3, "color": "#1b2160"}, "encoding": {"x": {"datum": 44.44, "type": "quantitative"}, "y": {"datum": 13, "type": "quantitative"}, "text": {"field": "t2", "type": "nominal"}}},
            {"data": {"name": "panels"}, "transform": [{"filter": "datum.panel == 'C'"}], "mark": {"type": "text", "align": "right", "font": "Liberation Mono", "fontSize": 11.3, "color": "#1b2160"}, "encoding": {"x": {"datum": 76.37, "type": "quantitative"}, "y": {"datum": 13, "type": "quantitative"}, "text": {"field": "weight", "type": "quantitative", "format": ".2f"}}},
            {"data": {"name": "panels"}, "transform": [{"filter": "datum.panel == 'C'"}], "mark": {"type": "text", "align": "left", "font": "Liberation Mono", "fontSize": 11.3, "color": "#1b2160"}, "encoding": {"x": {"datum": 80.95, "type": "quantitative"}, "y": {"datum": 13, "type": "quantitative"}, "text": {"field": "ci", "type": "nominal"}}},
            {"data": {"name": "panels"}, "transform": [{"filter": "datum.panel == 'C'"}], "mark": {"type": "text", "align": "left", "fontSize": 10.8, "color": "#1e1e1e"}, "encoding": {"x": {"datum": 5.37, "type": "quantitative"}, "y": {"datum": 14, "type": "quantitative"}, "text": {"field": "events", "type": "nominal"}}},
            {"data": {"name": "panels"}, "transform": [{"filter": "datum.panel == 'C'"}], "mark": {"type": "text", "align": "left", "fontSize": 10.8, "color": "#1e1e1e"}, "encoding": {"x": {"datum": 5.37, "type": "quantitative"}, "y": {"datum": 15, "type": "quantitative"}, "text": {"field": "het", "type": "nominal"}}},
            {"data": {"name": "panels"}, "transform": [{"filter": "datum.panel == 'C'"}], "mark": {"type": "text", "align": "left", "fontSize": 10.8, "color": "#1e1e1e"}, "encoding": {"x": {"datum": 5.37, "type": "quantitative"}, "y": {"datum": 16, "type": "quantitative"}, "text": {"field": "effect", "type": "nominal"}}}
          ]
        },
        {
          "layer": [
            {"data": {"name": "panels"}, "transform": [{"filter": "datum.panel == 'C'"}], "mark": {"type": "rule", "color": "#000", "strokeWidth": 1.2}, "encoding": {"x": {"datum": 1, "type": "quantitative", "scale": {"type": "log", "domain": [0.01, 100], "range": [470.7, 673.3], "nice": false}, "axis": null}, "y": {"datum": 0, "type": "quantitative"}, "y2": {"datum": 17}}},
            {"data": {"name": "ticks"}, "mark": {"type": "rule", "color": "#000", "strokeWidth": 1}, "encoding": {"x": {"field": "v", "type": "quantitative", "axis": null}, "y": {"datum": 16.786, "type": "quantitative"}, "y2": {"datum": 17}}},
            {"data": {"name": "ticks"}, "mark": {"type": "text", "align": "center", "fontSize": 9, "color": "#222"}, "encoding": {"x": {"field": "v", "type": "quantitative", "axis": null}, "y": {"datum": 17.55, "type": "quantitative"}, "text": {"field": "label", "type": "nominal"}}},
            {"data": {"name": "studies"}, "transform": [{"filter": "datum.panel == 'C'"}], "mark": {"type": "rule", "color": "#000", "strokeWidth": 1}, "encoding": {"x": {"field": "lo", "type": "quantitative", "axis": null}, "x2": {"field": "hi"}, "y": {"field": "k", "type": "quantitative"}}},
            {"data": {"name": "studies"}, "transform": [{"filter": "datum.panel == 'C'"}], "mark": {"type": "point", "shape": "square", "filled": true, "opacity": 1, "color": "#1a1a9a"}, "encoding": {"x": {"field": "or", "type": "quantitative", "axis": null}, "y": {"field": "k", "type": "quantitative"}, "size": {"field": "weight", "type": "quantitative", "scale": {"domain": [0, 100], "range": [16, 86]}, "legend": null}}},
            {"data": {"name": "panels"}, "transform": [{"filter": "datum.panel == 'C'"}], "mark": {"type": "point", "shape": "M-0.96,0L0,-1L0.96,0L0,1Z", "filled": true, "opacity": 1, "color": "#000", "size": 156}, "encoding": {"x": {"field": "or", "type": "quantitative", "axis": null}, "y": {"datum": 13, "type": "quantitative"}}},
            {"data": {"name": "panels"}, "transform": [{"filter": "datum.panel == 'C'"}], "mark": {"type": "text", "align": "right", "dx": -9, "fontSize": 10.6, "color": "#1e1e1e"}, "encoding": {"x": {"datum": 1, "type": "quantitative", "axis": null}, "y": {"datum": 18.9, "type": "quantitative"}, "text": {"field": "fav1", "type": "nominal"}}},
            {"data": {"name": "panels"}, "transform": [{"filter": "datum.panel == 'C'"}], "mark": {"type": "text", "align": "left", "dx": 10, "fontSize": 10.6, "color": "#1e1e1e"}, "encoding": {"x": {"datum": 1, "type": "quantitative", "axis": null}, "y": {"datum": 18.9, "type": "quantitative"}, "text": {"field": "fav2", "type": "nominal"}}}
          ]
        }
      ]
    }
  ]
}
